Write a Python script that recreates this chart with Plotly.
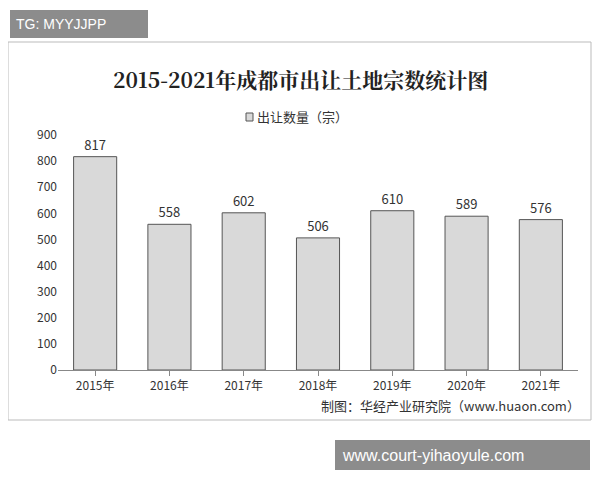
import plotly.graph_objects as go

years = ["2015年", "2016年", "2017年", "2018年", "2019年", "2020年", "2021年"]
counts = [817, 558, 602, 506, 610, 589, 576]

# the page adds an 8px body margin, so work in reference pixels minus 8
OFF = 8
W, H = 600 - OFF, 480 - OFF
L, T = 58 - OFF, 135 - OFF
R, B = W - (578 - OFF), H - (370 - OFF)
PW, PH = W - L - R, H - T - B


def px(x):
    return (x - OFF - L) / PW


def py(y):
    return (H - B - (y - OFF)) / PH


def label(text, x, y, **kw):
    d = dict(text=text, xref="paper", yref="paper", x=px(x), y=py(y),
             xanchor="center", yanchor="middle", showarrow=False)
    d.update(kw)
    return d


fig = go.Figure(go.Bar(
    x=years, y=counts, name="出让数量（宗）",
    text=counts, textposition="outside",
    textfont=dict(size=13, color="#333"),
    marker=dict(color="#d9d9d9", line=dict(color="#555", width=1)),
    width=0.58, cliponaxis=False,
))

fig.update_layout(
    width=W, height=H, paper_bgcolor="white", plot_bgcolor="white",
    margin=dict(l=L, r=R, t=T, b=B, autoexpand=False),
    font=dict(family="Noto Sans CJK SC", size=12, color="#333"),
    showlegend=False,
    yaxis=dict(range=[0, 900], dtick=100, showgrid=False, showline=False,
               ticks="", tickfont=dict(size=12)),
    xaxis=dict(showline=True, linecolor="#888", ticks="outside", tickcolor="#888",
               tickfont=dict(size=12)),
    shapes=[
        dict(type="rect", xref="paper", yref="paper", x0=px(8), x1=px(591),
             y0=py(420), y1=py(42), line=dict(color="#bbb", width=1)),
        dict(type="rect", xref="paper", yref="paper", x0=px(10), x1=px(148),
             y0=py(38), y1=py(10), fillcolor="#8c8c8c", line=dict(width=0)),
        dict(type="rect", xref="paper", yref="paper", x0=px(335), x1=px(590),
             y0=py(470), y1=py(440), fillcolor="#8c8c8c", line=dict(width=0)),
        dict(type="rect", xref="paper", yref="paper", x0=px(246), x1=px(253),
             y0=py(121), y1=py(113), fillcolor="#d9d9d9", line=dict(color="#555", width=1)),
    ],
    annotations=[
        label("<b>2015-2021年成都市出让土地宗数统计图</b>", 300, 79,
              font=dict(family="Noto Serif CJK SC, Noto Sans CJK SC", size=21, color="#222")),
        label("出让数量（宗）", 255, 117, xanchor="left", font=dict(size=13)),
        label("TG: MYYJJPP", 14, 24, xanchor="left",
              font=dict(color="white", size=14, family="Liberation Sans")),
        label("制图：华经产业研究院（www.huaon.com）", 582, 405, xanchor="right",
              font=dict(size=13)),
        label("www.court-yihaoyule.com", 340, 455, xanchor="left",
              font=dict(color="white", size=16, family="Liberation Sans")),
    ],
)

fig.write_html("out.html")
